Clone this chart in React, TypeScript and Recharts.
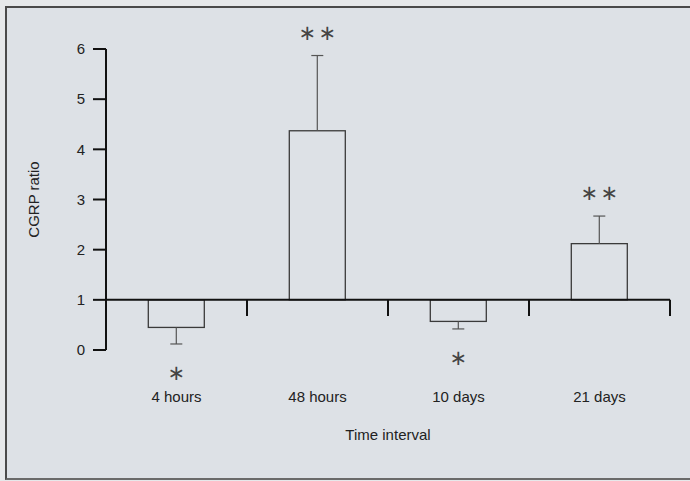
import React from 'react';
import { BarChart, Bar, XAxis, YAxis, ReferenceLine, Label } from 'recharts';

// values (ratio, baseline at 1)
const categories = ['4 hours', '48 hours', '10 days', '21 days'];
const ratios = [0.45, 4.37, 0.57, 2.12];
const errors = [0.33, 1.5, 0.15, 0.55];
const stars = [1, 2, 1, 2];
const yTicks = [0, 1, 2, 3, 4, 5, 6];

const BASELINE = 1;
const FONT = '"Liberation Sans", Arial, sans-serif';

const data = categories.map((label, i) => ({
  label,
  ratio: ratios[i],
  err: errors[i],
  stars: stars[i],
  range: [Math.min(ratios[i], BASELINE), Math.max(ratios[i], BASELINE)],
}));

// bar outline plus a one-sided error whisker and the significance stars
const BarWithError = (props: any) => {
  const { x, y, width, height, payload } = props;
  const up = payload.ratio > BASELINE;
  const perUnit = height / Math.abs(payload.ratio - BASELINE);
  const cx = x + width / 2;
  const edge = up ? y : y + height;
  const end = up ? edge - payload.err * perUnit : edge + payload.err * perUnit;
  const starY = up ? end - 23 : end + 29;
  const starXs = payload.stars === 2 ? [cx - 10, cx + 10] : [cx];
  return (
    <g>
      <rect x={x} y={y} width={width} height={height} fill="none" stroke="#3a3a3a" strokeWidth={1.3} />
      <line x1={cx} y1={edge} x2={cx} y2={end} stroke="#555" strokeWidth={1.2} />
      <line x1={cx - 6} y1={end} x2={cx + 6} y2={end} stroke="#555" strokeWidth={1.2} />
      {starXs.map((sx, i) => (
        <text
          key={i}
          x={sx}
          y={starY}
          textAnchor="middle"
          dominantBaseline="central"
          fontFamily='"DejaVu Sans", sans-serif'
          fontSize={21}
          fill="#444"
        >
          ∗
        </text>
      ))}
    </g>
  );
};

export default function App() {
  return (
    <div style={{ position: 'relative', width: 690, height: 481, background: '#e6e8ea', overflow: 'hidden' }}>
      <style>{`body{margin:0}`}</style>
      <div
        style={{
          position: 'absolute',
          left: 5,
          top: 6,
          width: 685,
          height: 470,
          background: '#dde1e6',
          borderLeft: '2px solid #4a4a4a',
          borderTop: '2px solid #4a4a4a',
          borderBottom: '2px solid #6a6a6a',
        }}
      />
      <div style={{ position: 'absolute', left: 0, top: 0 }}>
        <BarChart
          width={690}
          height={481}
          data={data}
          margin={{ top: 49, right: 20, bottom: 0, left: 0 }}
          barCategoryGap="30%"
        >
          <XAxis
            dataKey="label"
            height={131}
            tickLine={false}
            axisLine={false}
            tickSize={0}
            tickMargin={41}
            tick={{ fill: '#222', fontSize: 15, fontFamily: FONT }}
          >
            <Label
              value="Time interval"
              position="insideBottom"
              offset={41}
              style={{ fill: '#222', fontSize: 15, fontFamily: FONT }}
            />
          </XAxis>
          <YAxis
            width={106}
            domain={[0, 6]}
            ticks={yTicks}
            interval={0}
            tickSize={13}
            tickMargin={8}
            axisLine={{ stroke: '#111', strokeWidth: 2 }}
            tickLine={{ stroke: '#111', strokeWidth: 2 }}
            tick={{ fill: '#222', fontSize: 15, fontFamily: FONT }}
          >
            <Label
              value="CGRP ratio"
              angle={-90}
              position="insideLeft"
              offset={34}
              style={{ textAnchor: 'middle', fill: '#222', fontSize: 15, fontFamily: FONT }}
            />
          </YAxis>
          <Bar dataKey="range" shape={<BarWithError />} isAnimationActive={false} />
          <ReferenceLine y={BASELINE} stroke="#111" strokeWidth={2} />
          {/* short ticks at the right edge of each category band */}
          {categories.map((c) => (
            <ReferenceLine
              key={c}
              position="end"
              segment={[
                { x: c, y: BASELINE },
                { x: c, y: 0.68 },
              ]}
              stroke="#111"
              strokeWidth={2}
            />
          ))}
        </BarChart>
      </div>
    </div>
  );
}
